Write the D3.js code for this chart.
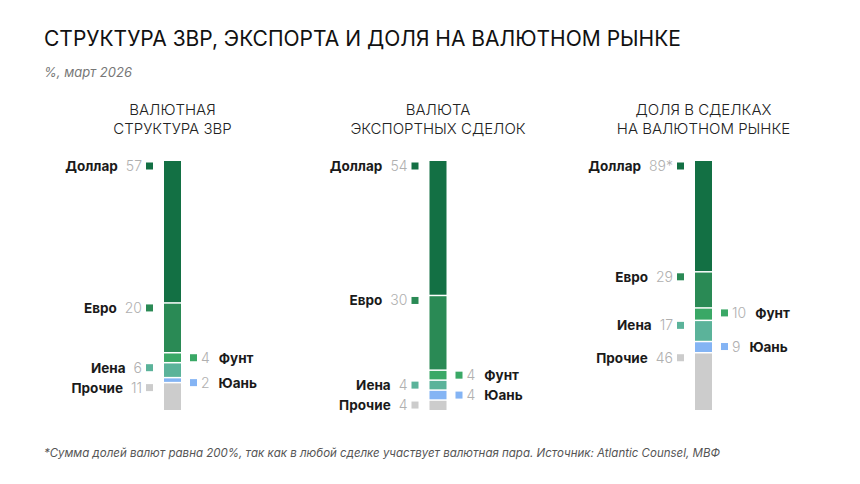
<!DOCTYPE html>
<html>
<head>
<meta charset="utf-8">
<script src="https://cdn.jsdelivr.net/npm/d3@7"></script>
<style>
  body { margin: 0; background: #fff; }
  svg { display: block; font-family: Inter, "Noto Sans", sans-serif; }
</style>
</head>
<body>
<svg width="860" height="484"></svg>
<script>
// данные
var currencies = ["Доллар", "Евро", "Фунт", "Иена", "Юань", "Прочие"];
var sides = ["left", "left", "right", "left", "right", "left"];
var colors = ["#137044", "#2a8a55", "#3aa866", "#5bb39a", "#84b4f4", "#cccccc"];

var panels = ["reserves", "exports", "fx"];
var panelTitles = [
    ["ВАЛЮТНАЯ", "СТРУКТУРА ЗВР"],
    ["ВАЛЮТА", "ЭКСПОРТНЫХ СДЕЛОК"],
    ["ДОЛЯ В СДЕЛКАХ", "НА ВАЛЮТНОМ РЫНКЕ"]
];
var reserves = [57, 20, 4, 6, 2, 11];
var exportsShare = [54, 30, 4, 4, 4, 4];
var fxMarket = [89, 29, 10, 17, 9, 46];
var valueNotes = [[], [], ["*"]]; // сноска у доллара на валютном рынке

var svg = d3.select("svg");

svg.append("text")
    .attr("x", 44).attr("y", 46)
    .attr("font-size", 21).attr("fill", "#111")
    .attr("font-weight", 400)
    .text("СТРУКТУРА ЗВР, ЭКСПОРТА И ДОЛЯ НА ВАЛЮТНОМ РЫНКЕ");

svg.append("text")
    .attr("x", 44).attr("y", 77)
    .attr("font-size", 13).attr("fill", "#777")
    .attr("font-style", "italic")
    .text("%, март 2026");

svg.append("text")
    .attr("x", 44).attr("y", 457)
    .attr("font-size", 11.5).attr("fill", "#555")
    .attr("font-style", "italic")
    .text("*Сумма долей валют равна 200%, так как в любой сделке участвует валютная пара. Источник: Atlantic Counsel, МВФ");

var x = d3.scalePoint().domain(panels).range([172.5, 703.5]);
var barW = 17;
var series = [reserves, exportsShare, fxMarket];

panels.forEach(function (p, i) {
    var values = series[i];
    var total = d3.sum(values);
    var y = d3.scaleLinear().domain([0, total]).range([161, 410]);
    var cx = x(p);
    var g = svg.append("g");

    // заголовок колонки
    g.selectAll(".ptitle")
        .data(panelTitles[i])
        .enter().append("text")
        .attr("x", cx)
        .attr("y", function (d, k) { return 115 + k * 19; })
        .attr("text-anchor", "middle")
        .attr("font-size", 15)
        .attr("font-weight", 300)
        .attr("fill", "#222")
        .text(function (d) { return d; });

    var stack = [];
    var acc = 0;
    values.forEach(function (v, k) {
        stack.push({ name: currencies[k], v: v, y0: acc, y1: acc + v, side: sides[k], color: colors[k], note: k === 0 && valueNotes[i][0] ? valueNotes[i][0] : "" });
        acc += v;
    });

    g.selectAll(".seg")
        .data(stack)
        .enter().append("rect")
        .attr("x", cx - barW / 2)
        .attr("width", barW)
        .attr("y", function (d) { return y(d.y0) + (d.y0 > 0 ? 0.75 : 0); })
        .attr("height", function (d) { return y(d.y1) - y(d.y0) - (d.y0 > 0 ? 0.75 : 0) - (d.y1 < total ? 0.75 : 0); })
        .attr("fill", function (d) { return d.color; });

    // подписи
    stack.forEach(function (d) {
        var ly = y(d.y0) + 5;
        var lg = g.append("g").attr("transform", "translate(0," + ly + ")");
        if (d.side === "left") {
            var mx = cx - barW / 2 - 18;
            lg.append("rect").attr("x", mx).attr("y", -3.5).attr("width", 7).attr("height", 7).attr("fill", d.color);
            var val = lg.append("text")
                .attr("x", mx - 4).attr("y", 5)
                .attr("text-anchor", "end")
                .attr("font-size", 14).attr("font-weight", 300)
                .attr("fill", "#b0b0b0")
                .text(d.v + d.note);
            var w = val.node().getComputedTextLength();
            lg.append("text")
                .attr("x", mx - 4 - w - 8).attr("y", 5)
                .attr("text-anchor", "end")
                .attr("font-size", 13.5).attr("font-weight", 700)
                .attr("fill", "#1a1a1a")
                .text(d.name);
        } else {
            var rx = cx + barW / 2 + 9;
            lg.append("rect").attr("x", rx).attr("y", -3.5).attr("width", 7).attr("height", 7).attr("fill", d.color);
            var val2 = lg.append("text")
                .attr("x", rx + 11).attr("y", 5)
                .attr("font-size", 14).attr("font-weight", 300)
                .attr("fill", "#b0b0b0")
                .text(d.v);
            var w2 = val2.node().getComputedTextLength();
            lg.append("text")
                .attr("x", rx + 11 + w2 + 9).attr("y", 5)
                .attr("font-size", 13.5).attr("font-weight", 700)
                .attr("fill", "#1a1a1a")
                .text(d.name);
        }
    });
});
</script>
</body>
</html>
